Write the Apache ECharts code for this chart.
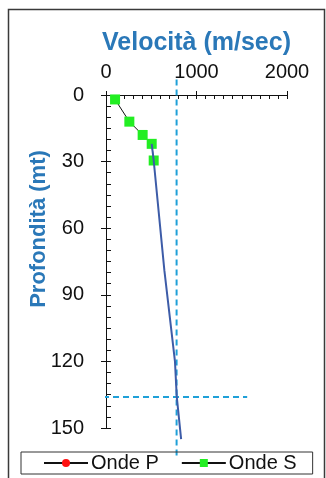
<!DOCTYPE html>
<html>
<head>
<meta charset="utf-8">
<script src="https://cdn.jsdelivr.net/npm/echarts@6/dist/echarts.min.js"></script>
<style>
  html, body { margin: 0; padding: 0; background: #fff; }
  #chart { width: 326px; height: 478px; }
</style>
</head>
<body>
<div id="chart"></div>
<script>
// Axis ticks
const velTicks = [0, 1000, 2000];          // Velocità (m/sec)
const depthTicks = [0, 30, 60, 90, 120, 150]; // Profondità (mt)

// S-wave measurements
const sWaveVel = [100, 258, 405, 505, 527];
const sWaveDepth = [2, 12, 18, 22, 29.5];

// Velocity gradient below the measured layers
const gradVel = [505, 527, 645, 762, 782, 830];
const gradDepth = [22, 29.5, 79, 120, 136, 155];

// Reference guides: Vs = 780 m/s and the depth where it is reached
const refVel = 780;
const refDepth = 136;
const refVelSpan = [-475, 1560];
const refDepthSpan = [-7, 163];

const FONT = 'Liberation Sans, Arial, sans-serif';
const BLUE_TEXT = '#2a78b8';
const GUIDE = '#1fa0d8';

const pairs = (xs, ys) => xs.map((x, i) => [x, ys[i]]);
const plain = v => String(v);

const velMin = velTicks[0], velMax = velTicks[velTicks.length - 1];
const velStep = velTicks[1] - velTicks[0];
const depMin = depthTicks[0], depMax = depthTicks[depthTicks.length - 1];
const depStep = depthTicks[1] - depthTicks[0];

const chart = echarts.init(document.getElementById('chart'), null, { renderer: 'canvas' });

const grid = { left: 106, top: 95, right: 39, bottom: 50 };

const option = {
  animation: false,
  backgroundColor: '#fff',
  grid: grid,
  graphic: [
    {
      type: 'rect',
      shape: { x: 8.5, y: 9.5, width: 316, height: 480 },
      style: { fill: 'none', stroke: '#3a3a3a', lineWidth: 1.5 },
      silent: true, z: -1
    },
    {
      type: 'text',
      x: 39, y: 229,
      rotation: Math.PI / 2,
      style: {
        text: 'Profondità (mt)',
        font: 'bold 22px ' + FONT,
        fill: BLUE_TEXT,
        align: 'center',
        verticalAlign: 'middle'
      }
    }
  ],
  legend: {
    left: 21, top: 452,
    data: ['Onde P', 'Onde S'],
    itemWidth: 44, itemHeight: 10, itemGap: 22,
    padding: [1, 16, 1, 22],
    borderColor: '#333', borderWidth: 1,
    textStyle: { fontFamily: FONT, fontSize: 20, color: '#111', padding: [0, 0, 0, -2] },
    selectedMode: false
  },
  xAxis: [
    {
      type: 'value', position: 'top',
      min: velMin, max: velMax, interval: velStep,
      name: 'Velocità (m/sec)', nameLocation: 'middle', nameGap: 39,
      nameTextStyle: { fontFamily: FONT, fontSize: 25, fontWeight: 'bold', color: BLUE_TEXT },
      axisLine: { show: true, lineStyle: { color: '#111', width: 1 } },
      axisTick: { show: true, inside: true, length: 4, lineStyle: { color: '#111' } },
      minorTick: { show: true, splitNumber: 10, length: 4, lineStyle: { color: '#111' } },
      axisLabel: { fontFamily: FONT, fontSize: 20, color: '#111', margin: 13, formatter: plain },
      splitLine: { show: false }
    },
    {
      type: 'value', position: 'top',
      min: velMin, max: velMax, interval: velStep,
      axisLine: { show: false },
      axisTick: { show: true, inside: false, length: 4, lineStyle: { color: '#111' } },
      axisLabel: { show: false },
      splitLine: { show: false }
    }
  ],
  yAxis: [
    {
      type: 'value', inverse: true,
      min: depMin, max: depMax, interval: depStep,
      axisLine: { show: true, lineStyle: { color: '#111', width: 1 } },
      axisTick: { show: true, inside: true, length: 5, lineStyle: { color: '#111' } },
      minorTick: { show: true, splitNumber: 6, length: 5, lineStyle: { color: '#111' } },
      axisLabel: { fontFamily: FONT, fontSize: 20, color: '#111', margin: 22, formatter: plain },
      splitLine: { show: false }
    },
    {
      type: 'value', inverse: true, position: 'left',
      min: depMin, max: depMax, interval: depStep,
      axisLine: { show: false },
      axisTick: { show: true, inside: false, length: 5, lineStyle: { color: '#111' } },
      axisLabel: { show: false },
      splitLine: { show: false }
    }
  ],
  series: [
    {
      name: 'Onde P', type: 'line', data: [],
      symbol: 'circle', symbolSize: 9,
      itemStyle: { color: '#ff1010' },
      lineStyle: { color: '#111', width: 1 }
    },
    {
      name: 'Vs ref', type: 'line', clip: false, silent: true, z: 1,
      symbol: 'none',
      data: [[refVel, refDepthSpan[0]], [refVel, refDepthSpan[1]]],
      lineStyle: { color: GUIDE, width: 2, type: [6, 4] }
    },
    {
      name: 'Depth ref', type: 'line', clip: false, silent: true, z: 1,
      symbol: 'none',
      data: [[refVelSpan[0], refDepth], [refVelSpan[1], refDepth]],
      lineStyle: { color: GUIDE, width: 2, type: [6, 4] }
    },
    {
      name: 'Onde S', type: 'line', z: 2,
      data: pairs(sWaveVel, sWaveDepth),
      symbol: 'rect', symbolSize: 10,
      itemStyle: { color: '#22ee22' },
      lineStyle: { color: '#111', width: 1 }
    },
    {
      name: 'Gradiente', type: 'line', z: 3, clip: false, silent: true,
      symbol: 'none',
      data: pairs(gradVel, gradDepth),
      lineStyle: { color: '#3d5ca8', width: 2 }
    }
  ]
};

chart.setOption(option);
</script>
</body>
</html>
